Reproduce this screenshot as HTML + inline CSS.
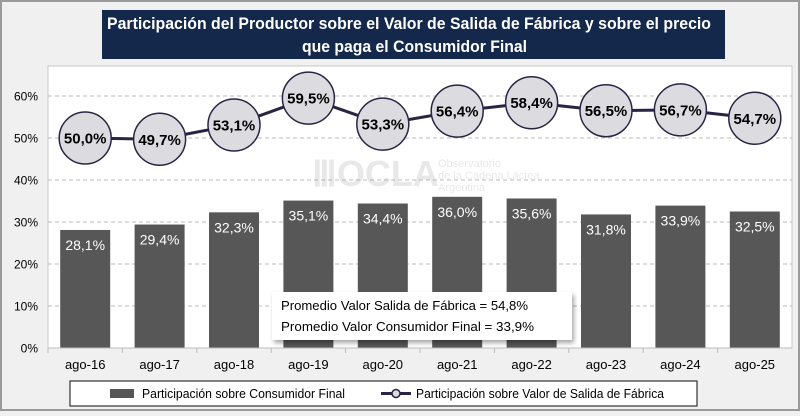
<!DOCTYPE html>
<html><head><meta charset="utf-8"><style>
body{margin:0;width:800px;height:411px;overflow:hidden;background:#f0f0f0;font-family:"Liberation Sans",sans-serif}
</style></head><body>
<svg width="800" height="411" viewBox="0 0 800 411" font-family="Liberation Sans, sans-serif">
<rect x="1" y="1" width="798" height="409" fill="#f0f0f0" stroke="#9a9a9a" stroke-width="2"/>
<rect x="102" y="10" width="623" height="49" fill="#13284a"/>
<text x="107" y="29" fill="#fff" font-size="17" font-weight="bold" textLength="604" lengthAdjust="spacingAndGlyphs">Participación del Productor sobre el Valor de Salida de Fábrica y sobre el precio</text>
<text x="302" y="52" fill="#fff" font-size="17" font-weight="bold" textLength="225" lengthAdjust="spacingAndGlyphs">que paga el Consumidor Final</text>
<rect x="48" y="66" width="744" height="282" fill="#fff" stroke="#c8c8c8"/>
<g id="grid"></g>
<g opacity="0.22">
<text x="312" y="186" font-size="36" font-weight="bold" fill="#999">ⅢOCLA</text>
<text x="438" y="167" font-size="11" fill="#999">Observatorio</text>
<text x="438" y="179" font-size="11" fill="#999">de la Cadena Láctea</text>
<text x="438" y="191" font-size="11" fill="#999">Argentina</text>
</g>
<g id="bars"></g>
<g id="line"></g>
<g id="xaxis"></g>
<g filter="url(#sh)">
<rect x="272" y="292" width="300" height="48" fill="#fff"/>
</g>
<defs><filter id="sh" x="-10%" y="-20%" width="130%" height="160%"><feDropShadow dx="2" dy="3" stdDeviation="2.5" flood-opacity="0.35"/></filter></defs>
<text x="281" y="310" font-size="13" fill="#000" textLength="247" lengthAdjust="spacingAndGlyphs">Promedio Valor Salida de Fábrica = 54,8%</text>
<text x="281" y="331" font-size="13" fill="#000" textLength="253" lengthAdjust="spacingAndGlyphs">Promedio Valor Consumidor Final = 33,9%</text>
<rect x="70" y="381" width="627" height="25" fill="#fff" stroke="#333" stroke-width="1.2"/>
<rect x="110" y="389" width="24" height="9" fill="#555"/>
<text x="142" y="398" font-size="13" textLength="203" lengthAdjust="spacingAndGlyphs">Participación sobre Consumidor Final</text>
<line x1="381" y1="393.5" x2="411" y2="393.5" stroke="#2a2444" stroke-width="3"/>
<circle cx="396" cy="393.5" r="4" fill="#dcdce0" stroke="#2a2444" stroke-width="1.5"/>
<text x="416" y="398" font-size="13" textLength="248" lengthAdjust="spacingAndGlyphs">Participación sobre Valor de Salida de Fábrica</text>
</svg>
<script>
const categories=["ago-16","ago-17","ago-18","ago-19","ago-20","ago-21","ago-22","ago-23","ago-24","ago-25"];
const consumerValues=[28.1,29.4,32.3,35.1,34.4,36.0,35.6,31.8,33.9,32.5];
const factoryValues=[50.0,49.7,53.1,59.5,53.3,56.4,58.4,56.5,56.7,54.7];
const yTicks=[0,10,20,30,40,50,60];
const NS="http://www.w3.org/2000/svg";
const X0=48,W=744,Y0=348,PX=4.2;
const band=W/categories.length;
const xc=i=>X0+band*(i+0.5);
const y=v=>Y0-v*PX;
const fmt=v=>v.toFixed(1).replace('.',',')+'%';
function mk(tag,attrs,parent,text){const e=document.createElementNS(NS,tag);for(const k in attrs)e.setAttribute(k,attrs[k]);if(text!==undefined)e.textContent=text;parent.appendChild(e);return e;}
const grid=document.getElementById('grid');
yTicks.forEach(t=>{
 if(t>0){const l=mk('line',{x1:X0,x2:X0+W,y1:y(t),y2:y(t),stroke:'#bbb','stroke-dasharray':'4,3'},grid);
 
 }
 const tx=mk('text',{x:38,y:y(t)+4.5,'font-size':12,'text-anchor':'end',fill:'#000'},grid,t+'%');
 
 
});
const bars=document.getElementById('bars');
consumerValues.forEach((v,i)=>{
 const r=mk('rect',{x:xc(i)-25,y:y(v),width:50,height:v*PX,fill:'#575757'},bars);
 
 
 const t=mk('text',{x:xc(i),y:y(v)+20,'font-size':14,'text-anchor':'middle',fill:'#fff'},bars,fmt(v));
 
 
});
const line=document.getElementById('line');
const pl=mk('polyline',{points:factoryValues.map((v,i)=>xc(i)+','+y(v)).join(' '),fill:'none',stroke:'#2a2444','stroke-width':3},line);


factoryValues.forEach((v,i)=>{
 const c=mk('circle',{cx:xc(i),cy:y(v),r:26,fill:'#dcdce0',stroke:'#2a2444','stroke-width':1.5},line);
 
 
 const t=mk('text',{x:xc(i),y:y(v)+5.5,'font-size':15,'font-weight':'bold','text-anchor':'middle',fill:'#000'},line,fmt(v));
 
 
});
const xa=document.getElementById('xaxis');
const ax=mk('line',{x1:X0,x2:X0+W,y1:Y0,y2:Y0,stroke:'#bbb'},xa);


categories.forEach((c,i)=>{
 const tk=mk('line',{x1:X0+band*i,x2:X0+band*i,y1:Y0,y2:Y0+5,stroke:'#bbb'},xa);
 
 
 const t=mk('text',{x:xc(i),y:369,'font-size':13,'text-anchor':'middle',fill:'#000'},xa,c);
 
 
});
</script>
</body></html>
